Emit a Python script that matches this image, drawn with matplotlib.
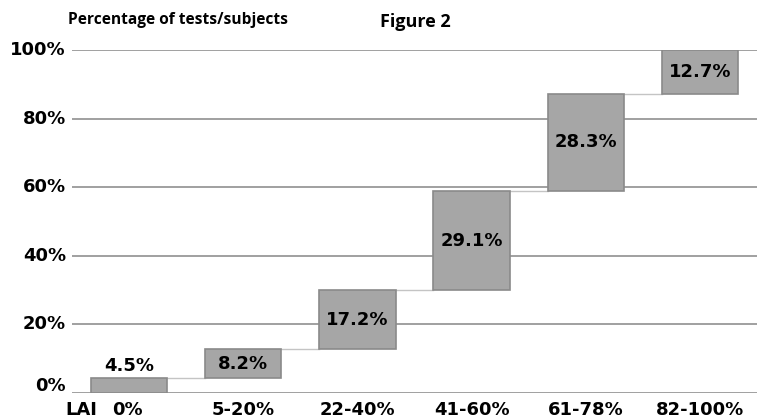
import matplotlib
matplotlib.use("Agg")
from matplotlib import pyplot as plt
from matplotlib.transforms import blended_transform_factory, ScaledTranslation
import numpy as np

# data
categories = ['0%', '5-20%', '22-40%', '41-60%', '61-78%', '82-100%']
shares = [4.5, 8.2, 17.2, 29.1, 28.3, 12.7]
y_ticks = [0, 20, 40, 60, 80, 100]

plt.rcParams['font.family'] = ['DejaVu Sans']

fig = plt.figure(figsize=(7.59, 4.19), dpi=100)
ax = fig.add_axes([72/759, 26/419, 685/759, 343/419])

x = np.arange(len(categories))
vals = np.array(shares)
tops = np.cumsum(vals)
bottoms = tops - vals

# gridlines
for t in y_ticks:
    ax.axhline(t, color='#999999', lw=1.3, zorder=0)

ax.bar(x, vals, bottom=bottoms, width=0.67, color='#a6a6a6',
       edgecolor='#8a8a8a', lw=1.2, zorder=3)

# connector lines between bars
for i in range(len(x) - 1):
    ax.plot([x[i] + 0.335, x[i + 1] - 0.335], [tops[i], tops[i]],
            color='#c4c4c4', lw=1, zorder=2)

for i, v in enumerate(vals):
    if v < 6:
        ax.text(x[i], tops[i] + 0.8, f'{v:.1f}%', ha='center', va='bottom',
                fontsize=13, fontweight='bold', zorder=4)
    else:
        ax.text(x[i], bottoms[i] + v / 2, f'{v:.1f}%', ha='center', va='center',
                fontsize=13, fontweight='bold', zorder=4)

ax.set_xlim(-0.5, 5.5)
ax.set_ylim(0, 100)
ax.set_xticks([])
ax.set_yticks([])
for s in ax.spines.values():
    s.set_visible(False)

# y labels, left of the axes
ytr = blended_transform_factory(ax.transAxes, ax.transData)
for t in y_ticks:
    off = ScaledTranslation(0, 7/100 if t == 0 else 0, fig.dpi_scale_trans)
    ax.text(-6/685, t, f'{t}%', transform=ytr + off, ha='right', va='center',
            fontsize=13, fontweight='bold')

# x labels under the axes
xtr = blended_transform_factory(ax.transData, ax.transAxes)
for i, c in enumerate(categories):
    off = ScaledTranslation(-2/100 if i == 0 else 0, -17/100, fig.dpi_scale_trans)
    ax.text(x[i], 0, c, transform=xtr + off, ha='center', va='center',
            fontsize=13, fontweight='bold')
ax.text(0, 0, 'LAI', transform=xtr + ScaledTranslation(-64/100, -17/100, fig.dpi_scale_trans),
        ha='left', va='center', fontsize=13, fontweight='bold')

fig.text(68/759, 1 - 20/419, 'Percentage of tests/subjects', ha='left',
         va='center', fontsize=11.2, fontweight='bold',
         family=['Open Sans', 'DejaVu Sans'])
fig.text(380/759, 1 - 22/419, 'Figure 2', ha='left', va='center',
         fontsize=13, fontweight='bold', family=['Open Sans', 'DejaVu Sans'])

fig.savefig('out.png', dpi=100)
